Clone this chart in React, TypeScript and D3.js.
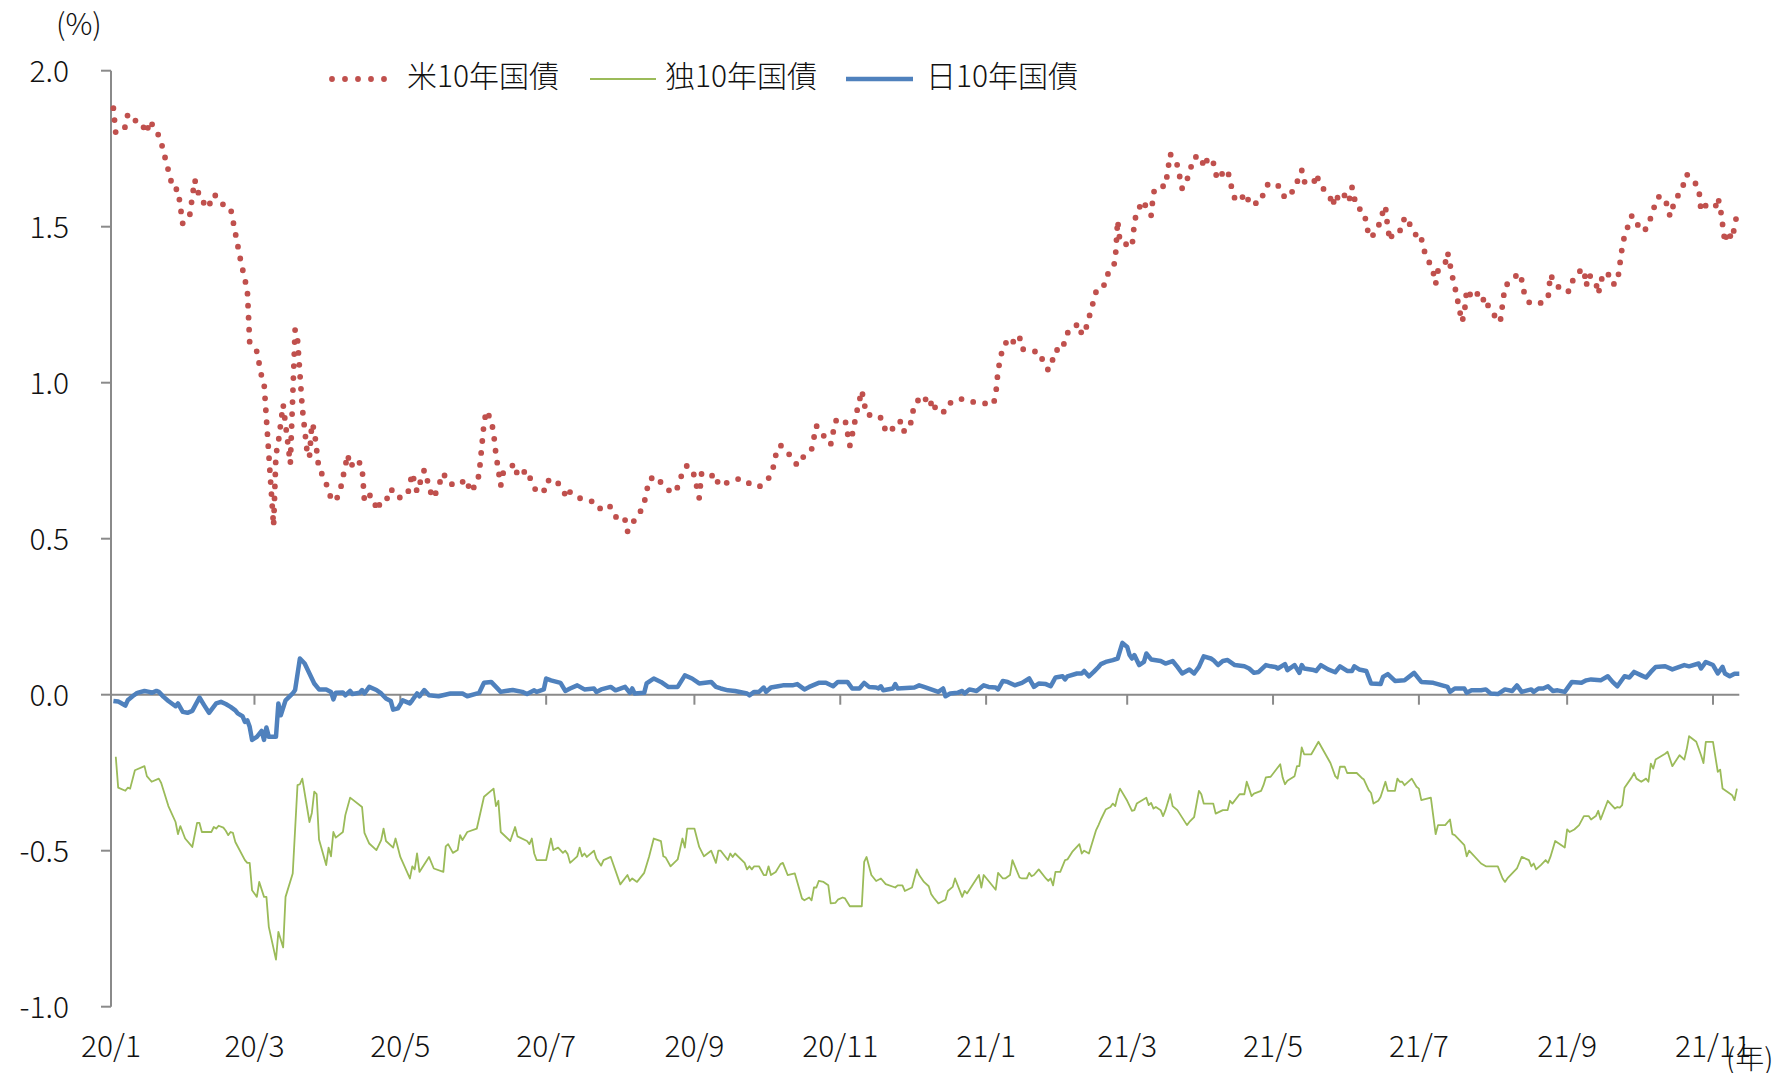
import React from "react";
import * as d3 from "d3";

const W = 1778;
const H = 1073;
const FONT = '"Noto Sans CJK JP", "Noto Sans", sans-serif';

// x values are days counted from 2020-01-01
const usDay = [
  1, 2, 6, 7, 9, 12, 15, 16, 19, 21, 26, 28, 30, 33, 35, 36, 37, 41, 42, 44, 47, 50, 54, 56, 57, 58, 61, 63, 64, 68,
  69, 70, 71, 72, 75, 77, 78, 80, 82, 83, 84, 85, 87, 89, 92, 94, 96, 99, 100, 103, 105, 106, 108, 110, 111, 113, 115, 117, 120, 124,
  126, 128, 131, 132, 133, 135, 137, 139, 141, 144, 149, 150, 153, 154, 156, 157, 159, 160, 161, 163, 164, 167, 169, 170, 174, 176, 178, 181, 182, 186,
  188, 191, 192, 196, 201, 204, 208, 210, 212, 215, 216, 218, 221, 223, 224, 225, 228, 231, 233, 236, 238, 239, 241, 244, 245, 246, 247, 250, 253, 254,
  259, 263, 267, 271, 273, 275, 277, 278, 280, 282, 284, 287, 289, 293, 295, 297, 300, 301, 302, 303, 307, 308, 309, 310, 312, 314, 315, 316, 321, 323,
  324, 327, 330, 331, 334, 336, 338, 340, 342, 344, 345, 349, 351, 355, 359, 364, 369, 370, 371, 373, 376, 378, 380, 381, 386, 388, 390, 392, 394, 395,
  398, 399, 401, 405, 406, 408, 412, 415, 416, 419, 420, 421, 422, 426, 427, 428, 429, 432, 433, 435, 436, 438, 441, 443, 446, 448, 450, 453, 456, 457,
  459, 461, 462, 463, 464, 467, 468, 470, 471, 475, 476, 481, 482, 484, 488, 490, 492, 495, 498, 499, 503, 504, 505, 507, 510, 511, 512, 514, 517, 518,
  519, 520, 521, 524, 526, 527, 530, 531, 533, 534, 535, 536, 538, 540, 541, 543, 546, 547, 548, 549, 551, 553, 554, 555, 558, 559, 560, 561, 562, 565,
  566, 567, 569, 571, 573, 575, 576, 579, 581, 583, 587, 589, 590, 591, 593, 596, 598, 601, 602, 604, 608, 610, 611, 614, 616, 617, 618, 621, 622, 624,
  626, 628, 630, 632, 633, 636, 638, 639, 642, 645, 646, 648, 651, 652, 654, 657, 659, 661, 664, 665, 667, 669, 671, 672, 673, 675, 676, 678, 679, 680,
];
const usYield = [
  1.88, 1.8, 1.82, 1.86, 1.84, 1.84, 1.8, 1.84, 1.81, 1.77, 1.62, 1.62, 1.51, 1.54, 1.65, 1.63, 1.59, 1.56, 1.6, 1.6, 1.57, 1.56, 1.4, 1.33, 1.3, 1.13, 1.1, 1.02, 1.0, 0.54,
  0.77, 0.81, 0.87, 0.93, 0.74, 1.17, 1.14, 0.92, 0.78, 0.76, 0.87, 0.85, 0.72, 0.7, 0.63, 0.62, 0.66, 0.77, 0.73, 0.755, 0.73, 0.62, 0.64, 0.63, 0.59, 0.62, 0.62, 0.66, 0.63, 0.64,
  0.71, 0.65, 0.72, 0.7, 0.66, 0.63, 0.67, 0.71, 0.68, 0.67, 0.69, 0.65, 0.675, 0.71, 0.87, 0.91, 0.88, 0.84, 0.77, 0.67, 0.71, 0.73, 0.74, 0.7, 0.72, 0.68, 0.65, 0.65, 0.685, 0.69,
  0.665, 0.63, 0.65, 0.63, 0.62, 0.595, 0.61, 0.59, 0.556, 0.56, 0.523, 0.55, 0.58, 0.615, 0.65, 0.69, 0.7, 0.67, 0.656, 0.648, 0.685, 0.716, 0.735, 0.703, 0.666, 0.631, 0.709, 0.698, 0.707, 0.672,
  0.682, 0.693, 0.677, 0.666, 0.677, 0.693, 0.73, 0.767, 0.8, 0.78, 0.768, 0.735, 0.758, 0.786, 0.862, 0.842, 0.808, 0.802, 0.84, 0.878, 0.882, 0.84, 0.798, 0.833, 0.91, 0.975, 0.935, 0.897, 0.895, 0.878,
  0.84, 0.853, 0.878, 0.843, 0.853, 0.931, 0.947, 0.959, 0.923, 0.945, 0.908, 0.907, 0.935, 0.949, 0.94, 0.935, 0.93, 0.96, 1.04, 1.115, 1.145, 1.125, 1.146, 1.108, 1.1, 1.1, 1.066, 1.04, 1.077, 1.105,
  1.104, 1.143, 1.173, 1.189, 1.153, 1.18, 1.292, 1.302, 1.339, 1.369, 1.39, 1.52, 1.45, 1.44, 1.435, 1.51, 1.55, 1.583, 1.558, 1.536, 1.61, 1.631, 1.629, 1.733, 1.697, 1.622, 1.65, 1.723, 1.725, 1.69,
  1.723, 1.706, 1.67, 1.651, 1.665, 1.683, 1.645, 1.59, 1.58, 1.607, 1.571, 1.579, 1.61, 1.638, 1.634, 1.601, 1.591, 1.623, 1.681, 1.644, 1.638, 1.669, 1.65, 1.622, 1.591, 1.566, 1.604, 1.581, 1.612, 1.59,
  1.627, 1.592, 1.562, 1.549, 1.473, 1.464, 1.498, 1.528, 1.567, 1.493, 1.455, 1.48, 1.48, 1.494, 1.532, 1.51, 1.47, 1.456, 1.464, 1.427, 1.392, 1.354, 1.316, 1.359, 1.382, 1.418, 1.38, 1.34, 1.309, 1.195,
  1.221, 1.299, 1.276, 1.292, 1.259, 1.274, 1.245, 1.211, 1.194, 1.309, 1.338, 1.352, 1.329, 1.29, 1.258, 1.251, 1.256, 1.269, 1.347, 1.316, 1.29, 1.294, 1.323, 1.356, 1.365, 1.31, 1.347, 1.322, 1.284, 1.35,
  1.351, 1.315, 1.321, 1.433, 1.471, 1.534, 1.527, 1.489, 1.492, 1.548, 1.586, 1.6, 1.57, 1.533, 1.583, 1.62, 1.668, 1.653, 1.627, 1.55, 1.568, 1.562, 1.562, 1.594, 1.566, 1.449, 1.486, 1.46, 1.5, 1.54,
];

const deDay = [
  2, 3, 6, 7, 8, 10, 14, 15, 17, 20, 21, 24, 27, 28, 29, 31, 34, 36, 37, 38, 42, 43, 44, 45, 47, 48, 49, 50, 51, 52,
  56, 57, 58, 59, 61, 62, 64, 65, 66, 69, 70, 72, 73, 76, 78, 79, 80, 83, 84, 85, 86, 87, 90, 91, 92, 93, 94, 97, 98, 100,
  105, 106, 108, 111, 113, 114, 115, 118, 119, 121, 125, 126, 127, 128, 129, 133, 135, 139, 140, 141, 143, 145, 146, 147, 149, 153, 156, 160, 161, 162,
  163, 167, 169, 170, 174, 175, 176, 177, 178, 182, 184, 185, 187, 189, 190, 191, 192, 195, 196, 197, 198, 199, 202, 203, 205, 206, 209, 213, 216, 217,
  218, 220, 223, 225, 227, 230, 231, 232, 234, 237, 239, 240, 241, 244, 246, 248, 251, 253, 254, 255, 258, 259, 260, 261, 265, 266, 267, 268, 269, 271,
  273, 274, 275, 276, 278, 280, 281, 283, 286, 289, 290, 292, 293, 294, 295, 296, 298, 300, 301, 303, 304, 306, 307, 309, 314, 315, 316, 318, 320, 322,
  324, 328, 329, 331, 332, 335, 337, 338, 340, 342, 343, 344, 346, 349, 350, 352, 353, 356, 357, 358, 363, 364, 365, 370, 371, 373, 374, 376, 377, 380,
  381, 383, 384, 385, 386, 388, 391, 392, 393, 394, 395, 397, 399, 400, 402, 405, 406, 407, 409, 412, 413, 414, 416, 418, 419, 420, 421, 422, 425, 427,
  428, 429, 433, 434, 435, 436, 437, 439, 440, 441, 443, 444, 446, 450, 451, 453, 455, 456, 457, 461, 462, 465, 467, 468, 469, 472, 474, 475, 476, 477,
  478, 481, 482, 483, 485, 489, 490, 491, 492, 495, 496, 497, 498, 499, 502, 505, 507, 510, 512, 513, 514, 516, 517, 521, 523, 524, 526, 527, 528, 530,
  531, 533, 534, 537, 538, 539, 540, 541, 544, 546, 547, 548, 552, 554, 555, 558, 560, 561, 562, 566, 567, 568, 573, 575, 580, 582, 583, 584, 588, 590,
  593, 594, 595, 596, 598, 600, 601, 602, 604, 608, 609, 610, 612, 614, 616, 618, 619, 621, 622, 623, 626, 629, 630, 631, 632, 633, 636, 637, 638, 640,
  642, 643, 644, 645, 646, 650, 651, 653, 656, 658, 659, 660, 663, 665, 666, 667, 670, 672, 673, 674, 677, 678, 679, 680,
];
const deYield = [
  -0.199, -0.298, -0.308, -0.298, -0.301, -0.242, -0.229, -0.261, -0.279, -0.269, -0.283, -0.357, -0.408, -0.447, -0.421, -0.461, -0.488, -0.411, -0.411, -0.44, -0.44, -0.424, -0.429, -0.42, -0.426, -0.436, -0.45, -0.44, -0.443, -0.472,
  -0.53, -0.539, -0.539, -0.627, -0.648, -0.6, -0.648, -0.648, -0.744, -0.849, -0.76, -0.81, -0.648, -0.573, -0.29, -0.287, -0.269, -0.408, -0.379, -0.311, -0.319, -0.464, -0.546, -0.49, -0.518, -0.44, -0.458, -0.44, -0.386, -0.33,
  -0.36, -0.443, -0.477, -0.498, -0.466, -0.429, -0.469, -0.49, -0.461, -0.52, -0.589, -0.55, -0.56, -0.509, -0.568, -0.52, -0.557, -0.568, -0.486, -0.479, -0.507, -0.498, -0.45, -0.466, -0.44, -0.429, -0.327, -0.301, -0.357, -0.34,
  -0.44, -0.469, -0.424, -0.454, -0.469, -0.479, -0.461, -0.509, -0.53, -0.53, -0.461, -0.498, -0.49, -0.507, -0.5, -0.511, -0.539, -0.518, -0.49, -0.518, -0.509, -0.52, -0.5, -0.525, -0.548, -0.53, -0.52, -0.608, -0.578, -0.597,
  -0.589, -0.6, -0.571, -0.52, -0.461, -0.469, -0.518, -0.522, -0.55, -0.528, -0.461, -0.49, -0.429, -0.429, -0.488, -0.518, -0.5, -0.539, -0.5, -0.5, -0.53, -0.509, -0.52, -0.509, -0.539, -0.56, -0.55, -0.56, -0.55, -0.55,
  -0.578, -0.578, -0.55, -0.578, -0.568, -0.543, -0.539, -0.578, -0.573, -0.653, -0.659, -0.65, -0.659, -0.618, -0.618, -0.597, -0.6, -0.611, -0.669, -0.667, -0.657, -0.65, -0.653, -0.678, -0.678, -0.536, -0.52, -0.578, -0.597, -0.589,
  -0.607, -0.618, -0.611, -0.611, -0.629, -0.618, -0.56, -0.578, -0.6, -0.614, -0.639, -0.65, -0.669, -0.657, -0.629, -0.616, -0.589, -0.648, -0.629, -0.637, -0.578, -0.618, -0.578, -0.625, -0.571, -0.589, -0.589, -0.578, -0.53, -0.586,
  -0.589, -0.589, -0.571, -0.582, -0.578, -0.56, -0.589, -0.597, -0.589, -0.611, -0.568, -0.568, -0.53, -0.528, -0.504, -0.479, -0.509, -0.5, -0.509, -0.434, -0.418, -0.4, -0.368, -0.36, -0.349, -0.357, -0.325, -0.301, -0.34, -0.372,
  -0.37, -0.349, -0.33, -0.354, -0.347, -0.365, -0.36, -0.37, -0.389, -0.37, -0.319, -0.357, -0.37, -0.418, -0.408, -0.392, -0.308, -0.319, -0.349, -0.349, -0.381, -0.37, -0.37, -0.34, -0.349, -0.319, -0.319, -0.279, -0.301, -0.325,
  -0.317, -0.308, -0.29, -0.265, -0.263, -0.223, -0.265, -0.287, -0.276, -0.261, -0.229, -0.229, -0.169, -0.191, -0.191, -0.151, -0.178, -0.219, -0.261, -0.269, -0.231, -0.231, -0.251, -0.251, -0.266, -0.272, -0.306, -0.315, -0.349, -0.34,
  -0.327, -0.279, -0.308, -0.308, -0.269, -0.279, -0.279, -0.29, -0.269, -0.295, -0.301, -0.338, -0.33, -0.447, -0.418, -0.418, -0.4, -0.447, -0.45, -0.482, -0.518, -0.5, -0.541, -0.55, -0.55, -0.589, -0.6, -0.589, -0.557, -0.52,
  -0.53, -0.55, -0.541, -0.56, -0.546, -0.53, -0.539, -0.52, -0.469, -0.49, -0.432, -0.44, -0.432, -0.418, -0.389, -0.389, -0.4, -0.389, -0.372, -0.4, -0.34, -0.365, -0.36, -0.362, -0.354, -0.298, -0.265, -0.251, -0.269, -0.279,
  -0.269, -0.279, -0.221, -0.237, -0.208, -0.189, -0.183, -0.229, -0.194, -0.208, -0.175, -0.133, -0.151, -0.194, -0.219, -0.151, -0.151, -0.247, -0.24, -0.301, -0.317, -0.322, -0.338, -0.301,
];

const jpDay = [
  1, 3, 4, 6, 7, 9, 11, 14, 16, 17, 19, 20, 22, 24, 27, 28, 30, 32, 34, 37, 39, 41, 44, 46, 48, 50, 52, 53, 55, 56,
  57, 58, 59, 61, 63, 64, 65, 66, 69, 70, 71, 73, 76, 77, 79, 81, 83, 85, 87, 90, 92, 93, 94, 97, 98, 100, 101, 104, 105, 106,
  108, 111, 113, 115, 117, 118, 120, 122, 125, 126, 128, 129, 131, 133, 137, 142, 147, 149, 154, 156, 159, 161, 163, 165, 168, 172, 174, 177, 178, 181,
  182, 184, 188, 190, 192, 195, 198, 202, 203, 205, 209, 211, 215, 217, 218, 219, 223, 224, 227, 230, 233, 237, 240, 243, 246, 251, 253, 255, 258, 261,
  266, 267, 269, 271, 273, 274, 276, 279, 281, 285, 287, 290, 292, 296, 299, 302, 304, 308, 310, 313, 315, 317, 320, 321, 322, 323, 327, 328, 329, 336,
  338, 340, 343, 346, 348, 349, 351, 354, 356, 357, 359, 362, 365, 367, 370, 371, 373, 375, 378, 381, 384, 386, 388, 391, 393, 394, 395, 398, 399, 400,
  404, 406, 407, 409, 411, 413, 414, 416, 419, 421, 423, 425, 426, 427, 428, 430, 432, 433, 435, 439, 441, 444, 446, 448, 451, 453, 455, 457, 460, 461,
  463, 465, 467, 470, 474, 476, 478, 480, 483, 485, 487, 488, 491, 492, 495, 497, 498, 499, 503, 504, 506, 509, 512, 514, 517, 519, 520, 522, 525, 527,
  531, 532, 534, 537, 541, 545, 548, 553, 559, 560, 562, 566, 567, 569, 573, 575, 577, 580, 583, 586, 588, 590, 594, 595, 597, 599, 601, 603, 605, 608,
  611, 615, 617, 619, 623, 626, 628, 630, 633, 635, 637, 640, 642, 644, 646, 650, 653, 658, 660, 664, 665, 667, 670, 672, 674, 675, 677, 679, 681,
];
const jpYield = [
  -0.02, -0.022, -0.026, -0.035, -0.018, -0.005, 0.006, 0.012, 0.009, 0.006, 0.012, 0.009, -0.007, -0.02, -0.037, -0.028, -0.055, -0.058, -0.052, -0.009, -0.034, -0.058, -0.028, -0.023, -0.03, -0.039, -0.05, -0.06, -0.069, -0.087,
  -0.082, -0.103, -0.145, -0.135, -0.116, -0.145, -0.105, -0.135, -0.135, -0.028, -0.066, -0.018, 0.004, 0.015, 0.116, 0.1, 0.068, 0.036, 0.017, 0.017, 0.009, -0.015, 0.006, 0.007, -0.002, 0.012, 0.002, 0.006, 0.015, 0.004,
  0.025, 0.015, 0.004, -0.012, -0.02, -0.048, -0.044, -0.018, -0.028, -0.018, 0.004, -0.005, 0.015, -0.002, -0.005, 0.004, 0.004, -0.005, 0.006, 0.038, 0.041, 0.025, 0.009, 0.012, 0.015, 0.009, 0.002, 0.014, 0.009, 0.017,
  0.052, 0.046, 0.038, 0.012, 0.02, 0.03, 0.017, 0.02, 0.009, 0.017, 0.025, 0.014, 0.025, 0.006, 0.02, 0.004, 0.006, 0.036, 0.052, 0.041, 0.025, 0.025, 0.062, 0.052, 0.036, 0.041, 0.025, 0.02, 0.014, 0.012,
  0.004, -0.002, 0.009, 0.009, 0.023, 0.009, 0.023, 0.027, 0.03, 0.03, 0.034, 0.017, 0.025, 0.038, 0.038, 0.027, 0.041, 0.041, 0.02, 0.02, 0.038, 0.025, 0.023, 0.02, 0.027, 0.014, 0.02, 0.034, 0.02, 0.023,
  0.03, 0.025, 0.017, 0.009, 0.02, -0.005, 0.004, 0.006, 0.012, 0.004, 0.017, 0.012, 0.03, 0.025, 0.023, 0.017, 0.044, 0.041, 0.03, 0.038, 0.052, 0.025, 0.036, 0.034, 0.027, 0.041, 0.055, 0.059, 0.049, 0.059,
  0.068, 0.068, 0.076, 0.059, 0.073, 0.089, 0.098, 0.105, 0.111, 0.116, 0.166, 0.153, 0.127, 0.116, 0.127, 0.095, 0.105, 0.132, 0.113, 0.108, 0.1, 0.108, 0.089, 0.068, 0.081, 0.068, 0.089, 0.123, 0.116, 0.111,
  0.095, 0.108, 0.111, 0.095, 0.091, 0.084, 0.07, 0.073, 0.095, 0.091, 0.089, 0.084, 0.098, 0.079, 0.095, 0.07, 0.095, 0.084, 0.079, 0.076, 0.095, 0.081, 0.072, 0.091, 0.076, 0.076, 0.091, 0.081, 0.076, 0.036,
  0.034, 0.057, 0.066, 0.044, 0.046, 0.07, 0.041, 0.038, 0.025, 0.009, 0.02, 0.02, 0.006, 0.014, 0.014, 0.017, 0.004, 0.002, 0.017, 0.012, 0.03, 0.009, 0.017, 0.009, 0.02, 0.02, 0.027, 0.012, 0.014, 0.009,
  0.041, 0.038, 0.046, 0.049, 0.046, 0.059, 0.041, 0.027, 0.059, 0.055, 0.073, 0.062, 0.055, 0.073, 0.089, 0.091, 0.081, 0.095, 0.091, 0.1, 0.084, 0.105, 0.095, 0.068, 0.089, 0.068, 0.059, 0.067, 0.067,
];

const seriesNames = ["米10年国債", "独10年国債", "日10年国債"];
const xTickLabels = ["20/1", "20/3", "20/5", "20/7", "20/9", "20/11", "21/1", "21/3", "21/5", "21/7", "21/9", "21/11"];
const yTicks = [-1, -0.5, 0, 0.5, 1, 1.5, 2];

const base = new Date(Date.UTC(2020, 0, 1));
const toDate = (d: number) => d3.utcDay.offset(base, d);

const RED = "#C0504D";
const GREEN = "#9BBB59";
const BLUE = "#4F81BD";
const AXIS = "#8a8a8a";

export default function App() {
  const x = d3.scaleUtc().domain([base, new Date(Date.UTC(2021, 10, 1))]).range([111, 1713]);
  const y = d3.scaleLinear().domain([-1, 2]).range([1006.7, 70.7]);

  const path = (days: number[], vals: number[]) =>
    d3
      .line<number>()
      .x((_, i) => x(toDate(days[i])))
      .y((v) => y(v))(vals) || "";

  const y0 = y(0);
  const xEnd = x(toDate(681.5));
  const tickDates = xTickLabels.map((_, i) => d3.utcMonth.offset(base, i * 2));

  return (
    <svg
      width={W}
      height={H}
      style={{ position: "absolute", left: 0, top: 0, background: "#fff" }}
      fontFamily={FONT}
      fontWeight={300}
    >
      {/* y axis */}
      <line x1={111} x2={111} y1={y(2)} y2={y(-1)} stroke={AXIS} strokeWidth={2} />
      {yTicks.map((t) => (
        <g key={t}>
          <line x1={101} x2={111} y1={y(t)} y2={y(t)} stroke={AXIS} strokeWidth={2} />
          <text x={69} y={y(t) - 2} textAnchor="end" dominantBaseline="central" fontSize={30} fill="#111">
            {t.toFixed(1)}
          </text>
        </g>
      ))}
      <text x={56} y={35} fontSize={30} fill="#111">(%)</text>

      {/* x axis at zero */}
      <line x1={111} x2={xEnd} y1={y0} y2={y0} stroke={AXIS} strokeWidth={2} />
      {tickDates.map((d, i) => (
        <g key={i}>
          <line x1={x(d)} x2={x(d)} y1={y0} y2={y0 + 10} stroke={AXIS} strokeWidth={2} />
          <text x={x(d)} y={1057} textAnchor="middle" fontSize={30} fill="#111">
            {xTickLabels[i]}
          </text>
        </g>
      ))}
      <text x={1726} y={1069} fontSize={29} fill="#111">(年)</text>

      {/* series */}
      <path d={path(deDay, deYield)} fill="none" stroke={GREEN} strokeWidth={1.8} strokeLinejoin="round" />
      <path d={path(jpDay, jpYield)} fill="none" stroke={BLUE} strokeWidth={4.5} strokeLinejoin="round" />
      <path
        d={path(usDay, usYield)}
        fill="none"
        stroke={RED}
        strokeWidth={5.8}
        strokeLinecap="round"
        strokeDasharray="0 12"
      />

      {/* legend */}
      <line x1={332} x2={397} y1={79} y2={79} stroke={RED} strokeWidth={5.8} strokeLinecap="round" strokeDasharray="0 13" />
      <text x={407} y={87} fontSize={30} fill="#111">{seriesNames[0]}</text>
      <line x1={590} x2={656} y1={79} y2={79} stroke={GREEN} strokeWidth={2} />
      <text x={665} y={87} fontSize={30} fill="#111">{seriesNames[1]}</text>
      <line x1={846} x2={913} y1={79} y2={79} stroke={BLUE} strokeWidth={4.5} />
      <text x={926} y={87} fontSize={30} fill="#111">{seriesNames[2]}</text>
    </svg>
  );
}
